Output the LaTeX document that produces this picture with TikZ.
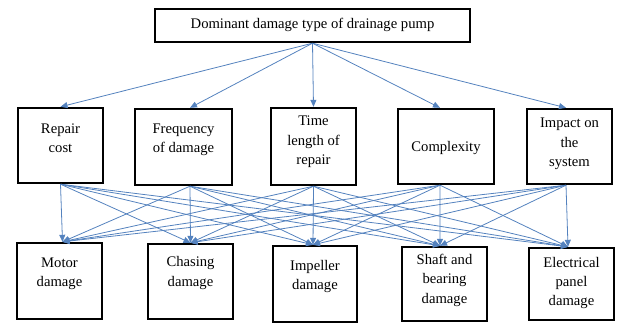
\documentclass[tikz,border=0pt]{standalone}
\usepackage{fontspec}
\setmainfont{Liberation Serif}
\usetikzlibrary{arrows.meta,calc}
\definecolor{arrowblue}{RGB}{84,130,190}
\tikzset{
  box/.style={draw=black,line width=2.4bp,fill=white,inner sep=0pt},
  lbl/.style={inner sep=0pt,align=center,font=\fontsize{14.7}{19.5}\selectfont},
  conn/.style={draw=arrowblue,line width=0.8bp,-{Triangle[length=7bp,width=6bp]}},
}
\begin{document}
\begin{tikzpicture}[x=1bp,y=-1bp]
\useasboundingbox (0,0) rectangle (617,325);
% top
\node[box,minimum width=315bp,minimum height=33bp] (top) at (312.5,25.5) {};
\node[lbl] (topt) at (312.5,24.5) {Dominant damage type of drainage pump};
% criteria
\node[box,minimum width=85bp,minimum height=75bp] (rc) at (60.5,145.5) {};
\node[box,minimum width=97bp,minimum height=76bp] (fq) at (183.5,147) {};
\node[box,minimum width=85bp,minimum height=77bp] (tl) at (313.5,146.5) {};
\node[box,minimum width=96bp,minimum height=75bp] (cx) at (446,146.5) {};
\node[box,minimum width=85bp,minimum height=75bp] (im) at (569.5,146.5) {};
\node[lbl] (rct) at (60.5,138) {Repair\\cost};
\node[lbl] (fqt) at (183.5,140) {Frequency\\of damage};
\node[lbl] (tlt) at (313.5,142) {Time\\length of\\repair};
\node[lbl] (cxt) at (446,148) {Complexity};
\node[lbl] (imt) at (569.5,144) {Impact on\\the\\system};
% alternatives
\node[box,minimum width=85bp,minimum height=76bp] (mo) at (59.5,281) {};
\node[box,minimum width=85bp,minimum height=75bp] (ch) at (190.5,281.5) {};
\node[box,minimum width=84bp,minimum height=76bp] (ip) at (315,284) {};
\node[box,minimum width=85bp,minimum height=74bp] (sh) at (444.5,284) {};
\node[box,minimum width=85bp,minimum height=72bp] (el) at (571.5,284) {};
\node[lbl] (mot) at (59.5,273.5) {Motor\\damage};
\node[lbl] (cht) at (190.5,273) {Chasing\\damage};
\node[lbl] (ipt) at (315,276.5) {Impeller\\damage};
\node[lbl] (sht) at (444.5,280) {Shaft and\\bearing\\damage};
\node[lbl] (elt) at (571.5,283) {Electrical\\panel\\damage};
% top arrows
\foreach \n/\d in {rc/0,fq/6.5,tl/0,cx/-6,im/-3.5}
  \draw[conn] (top.south) -- ([xshift=\d bp]\n.north);
% middle to bottom arrows
\foreach \a/\da in {rc/0,fq/6.5,tl/0,cx/-6,im/-3.5}
  \foreach \b/\db in {mo/3,ch/0,ip/-2,sh/-4.5,el/-3.5}
    \draw[conn] ([xshift=\da bp]\a.south) -- ([xshift=\db bp]\b.north);
\end{tikzpicture}
\end{document}
